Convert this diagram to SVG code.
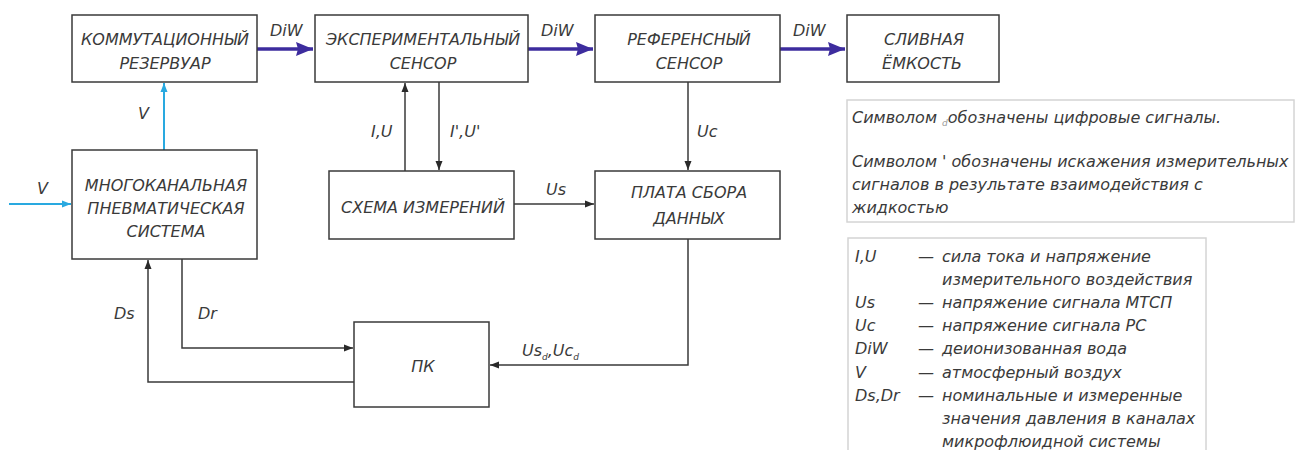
<svg xmlns="http://www.w3.org/2000/svg" width="1295" height="450" viewBox="0 0 1295 450">
<style>
.box{fill:#fff;stroke:#3a3a3a;stroke-width:1.5}
.note{fill:#fff;stroke:#d4d4d4;stroke-width:1.5}
text{font-family:"DejaVu Sans","Liberation Sans",sans-serif;font-style:italic;fill:#3a3a3a;font-size:16px}
.c{text-anchor:middle}
.lbl{font-size:16px}
.wire{fill:none;stroke:#3a3a3a;stroke-width:1.5}
.diw{fill:none;stroke:#3d2c9e;stroke-width:3.5}
.air{fill:none;stroke:#29a9e0;stroke-width:2}
.sub{font-size:9px}
</style>
<defs>
<marker id="ab" markerUnits="userSpaceOnUse" markerWidth="9" markerHeight="8" refX="9" refY="4" orient="auto"><path d="M0,0.5 L9,4 L0,7.5 z" fill="#2a2a2a"/></marker>
<marker id="ap" markerUnits="userSpaceOnUse" markerWidth="17" markerHeight="14" refX="17" refY="7" orient="auto"><path d="M0,0 L17,7 L0,14 L2,7 z" fill="#3d2c9e"/></marker>
<marker id="aa" markerUnits="userSpaceOnUse" markerWidth="9" markerHeight="8" refX="9" refY="4" orient="auto"><path d="M0,0.5 L9,4 L0,7.5 z" fill="#29a9e0"/></marker>
</defs>

<g id="connectors">
<path class="diw" d="M257,49 H313" marker-end="url(#ap)"/>
<path class="diw" d="M528,49 H593" marker-end="url(#ap)"/>
<path class="diw" d="M780,49 H845" marker-end="url(#ap)"/>
<path class="air" d="M164,150 V83" marker-end="url(#aa)"/>
<path class="air" d="M9,204 H71" marker-end="url(#aa)"/>
<path class="wire" d="M405,171 V83" marker-end="url(#ab)"/>
<path class="wire" d="M439,82 V170" marker-end="url(#ab)"/>
<path class="wire" d="M688,82 V170" marker-end="url(#ab)"/>
<path class="wire" d="M514,204 H594" marker-end="url(#ab)"/>
<path class="wire" d="M688,239 V365 H490" marker-end="url(#ab)"/>
<path class="wire" d="M182,259 V348 H353" marker-end="url(#ab)"/>
<path class="wire" d="M354,382 H148 V260" marker-end="url(#ab)"/>
<text x="270" y="36">DiW</text>
<text x="541" y="36">DiW</text>
<text x="793" y="36">DiW</text>
<text x="138" y="119">V</text>
<text x="37" y="194">V</text>
<text x="371" y="137">I,U</text>
<text x="450" y="137">I',U'</text>
<text x="697" y="137">Uc</text>
<text x="546" y="195">Us</text>
<text x="114" y="319">Ds</text>
<text x="198" y="319">Dr</text>
<text x="522" y="356">Us<tspan class="sub" dy="4">d</tspan><tspan dy="-4">,Uc</tspan><tspan class="sub" dy="4">d</tspan></text>
</g>

<g id="n-reservoir">
<rect class="box" x="72" y="15" width="185" height="67"/>
<text class="c" x="165" y="45">КОММУТАЦИОННЫЙ</text>
<text class="c" x="165" y="69">РЕЗЕРВУАР</text>
</g>
<g id="n-exp">
<rect class="box" x="315" y="15" width="213" height="67"/>
<text class="c" x="423" y="45">ЭКСПЕРИМЕНТАЛЬНЫЙ</text>
<text class="c" x="423" y="69">СЕНСОР</text>
</g>
<g id="n-ref">
<rect class="box" x="595" y="15" width="185" height="67"/>
<text class="c" x="689" y="45">РЕФЕРЕНСНЫЙ</text>
<text class="c" x="689" y="69">СЕНСОР</text>
</g>
<g id="n-drain">
<rect class="box" x="847" y="15" width="152" height="67"/>
<text class="c" x="924" y="45">СЛИВНАЯ</text>
<text class="c" x="922" y="69">ЁМКОСТЬ</text>
</g>
<g id="n-pneu">
<rect class="box" x="72" y="150" width="185" height="109"/>
<text class="c" x="166" y="191">МНОГОКАНАЛЬНАЯ</text>
<text class="c" x="166" y="214">ПНЕВМАТИЧЕСКАЯ</text>
<text class="c" x="166" y="237">СИСТЕМА</text>
</g>
<g id="n-meas">
<rect class="box" x="329" y="171" width="185" height="68"/>
<text class="c" x="423" y="213">СХЕМА ИЗМЕРЕНИЙ</text>
</g>
<g id="n-daq">
<rect class="box" x="595" y="171" width="185" height="68"/>
<text class="c" x="689" y="198">ПЛАТА СБОРА</text>
<text class="c" x="689" y="224">ДАННЫХ</text>
</g>
<g id="n-pc">
<rect class="box" x="354" y="322" width="135" height="85"/>
<text class="c" x="423" y="372">ПК</text>
</g>

<g id="notes">
<rect class="note" x="847" y="100" width="447" height="122"/>
<text x="852" y="123">Символом <tspan class="sub" fill="#999" dy="3">d</tspan><tspan dy="-3">обозначены цифровые сигналы.</tspan></text>
<text x="852" y="167">Символом ' обозначены искажения измерительных</text>
<text x="852" y="190">сигналов в результате взаимодействия с</text>
<text x="852" y="213">жидкостью</text>
</g>

<g id="legend">
<rect class="note" x="848" y="238" width="358" height="230"/>
<text x="855" y="262">I,U</text><text x="918" y="262">—</text><text x="942" y="262">сила тока и напряжение</text>
<text x="942" y="285">измерительного воздействия</text>
<text x="855" y="308">Us</text><text x="918" y="308">—</text><text x="942" y="308">напряжение сигнала МТСП</text>
<text x="855" y="331">Uc</text><text x="918" y="331">—</text><text x="942" y="331">напряжение сигнала РС</text>
<text x="855" y="354">DiW</text><text x="918" y="354">—</text><text x="942" y="354">деионизованная вода</text>
<text x="855" y="378">V</text><text x="918" y="378">—</text><text x="942" y="378">атмосферный воздух</text>
<text x="855" y="401">Ds,Dr</text><text x="918" y="401">—</text><text x="942" y="401">номинальные и измеренные</text>
<text x="942" y="424">значения давления в каналах</text>
<text x="942" y="447">микрофлюидной системы</text>
</g>
</svg>
